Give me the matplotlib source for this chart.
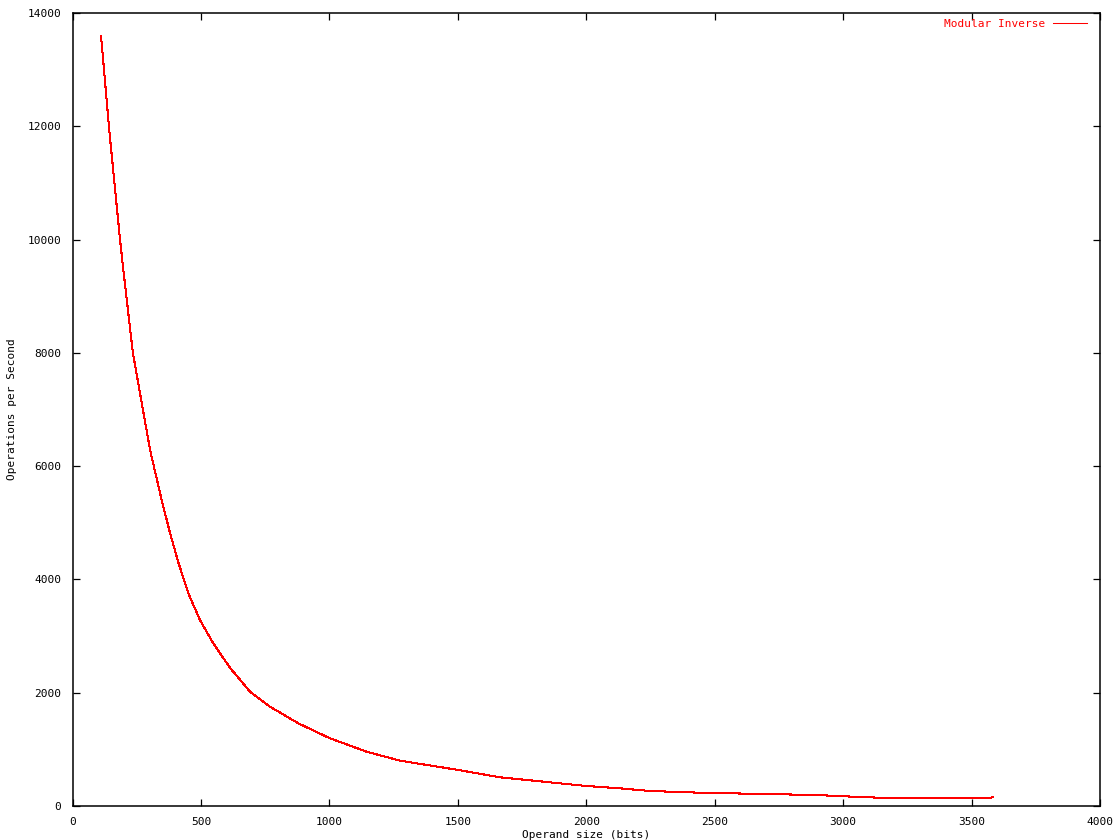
"""Modular inverse throughput vs operand size, gnuplot-style."""
import matplotlib
matplotlib.use("Agg")
import matplotlib.pyplot as plt

# data
operand_bits = [111, 143, 185, 198, 235, 302, 347, 380, 412, 451, 496, 548,
                613, 691, 769, 879, 1002, 1145, 1275, 1400, 1502, 1664, 1872,
                2002, 2131, 2248, 2442, 2637, 2897, 3091, 3220, 3351, 3565,
                3584]
ops_per_sec = [13600, 11935, 10000, 9460, 8000, 6285, 5402, 4815, 4300, 3755,
               3284, 2872, 2440, 2018, 1753, 1460, 1195, 959, 800, 710, 636,
               507, 412, 353, 312, 265, 235, 217, 194, 153, 140, 136, 136, 159]

x_ticks = [0, 500, 1000, 1500, 2000, 2500, 3000, 3500, 4000]
y_ticks = [0, 2000, 4000, 6000, 8000, 10000, 12000, 14000]

plt.rcParams["font.family"] = ["DejaVu Sans Mono"]
plt.rcParams["font.size"] = 8

fig = plt.figure(figsize=(11.2, 8.4), dpi=100)
ax = fig.add_axes([72.5 / 1120, 34 / 840, 1027.5 / 1120, 793 / 840])

ax.plot(operand_bits, ops_per_sec, color="red", linewidth=0.75,
        antialiased=False, label="Modular Inverse")

ax.set_xlim(0, 4000)
ax.set_ylim(0, 14000)
ax.set_xticks(x_ticks)
ax.set_yticks(y_ticks)
ax.tick_params(direction="in", length=5, width=0.9, top=True, right=True,
               pad=8, colors="black", labelsize=8)
for s in ax.spines.values():
    s.set_linewidth(1.1)
    s.set_color("black")

ax.set_xlabel("Operand size (bits)", labelpad=2)
ax.set_ylabel("Operations per Second", labelpad=7.5)

leg = ax.legend(loc="upper right", bbox_to_anchor=(0.9917, 0.998),
                frameon=False, markerfirst=False, handlelength=3.1,
                labelcolor="red", borderaxespad=0, handletextpad=0.7)

fig.savefig("out.png", dpi=100)
